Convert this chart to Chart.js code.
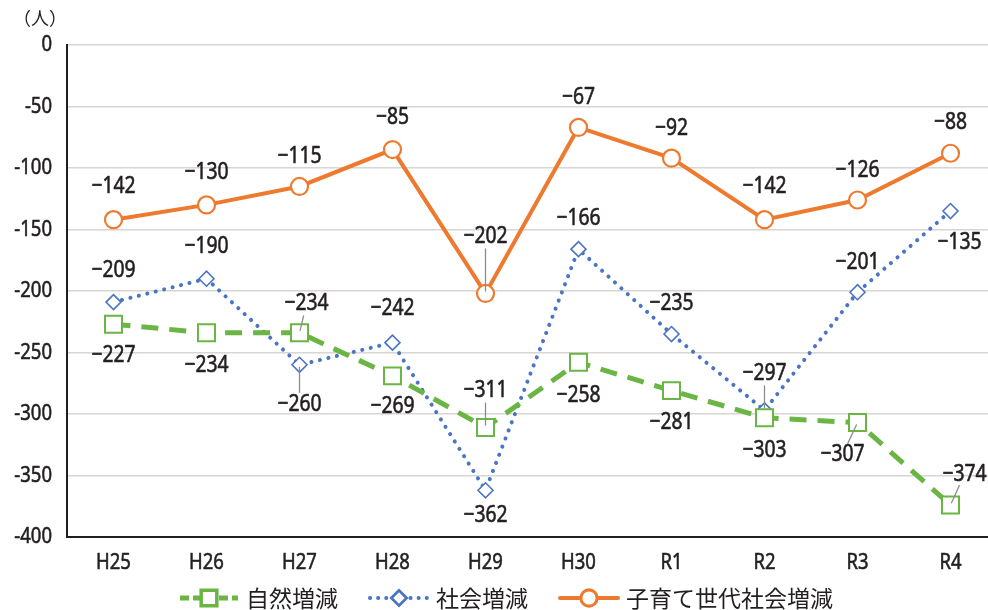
<!DOCTYPE html>
<html>
<head>
<meta charset="utf-8">
<script src="https://cdn.jsdelivr.net/npm/chart.js@4/dist/chart.umd.min.js"></script>
<style>
  html, body { margin: 0; padding: 0; background: #fff; overflow: hidden; }
  canvas { display: block; }
</style>
</head>
<body>
<canvas id="c" width="997" height="610"></canvas>
<script>
// Fiscal years
const categories = ['H25', 'H26', 'H27', 'H28', 'H29', 'H30', 'R1', 'R2', 'R3', 'R4'];

// Population change (persons)
const naturalChange = [-227, -234, -234, -269, -311, -258, -281, -303, -307, -374];
const socialChange = [-209, -190, -260, -242, -362, -166, -235, -297, -201, -135];
const childRearingSocialChange = [-142, -130, -115, -85, -202, -67, -92, -142, -126, -88];

const seriesNames = ['自然増減', '社会増減', '子育て世代社会増減'];
const yMin = -400, yMax = 0, yStep = 50;
const unitLabel = '（人）';

// Value label placement relative to each point: [dx, dy, leaderLine]
const naturalLabelPos = [[0, 31, 0], [0, 33, 0], [7, -29, 1], [0, 31, 0], [0, -37, 1], [0, 33, 0], [0, 32, 0], [0, 33, 0], [-15, 32, 1], [14, -31, 1]];
const socialLabelPos = [[0, -32, 0], [0, -32, 0], [0, 40, 1], [0, -34, 0], [0, 25, 0], [0, -31, 0], [0, -31, 0], [0, -37, 1], [0, -30, 0], [9, 31, 0]];
const childLabelPos = [[0, -33, 0], [0, -32, 0], [0, -30, 0], [0, -32, 0], [0, -57, 1], [0, -30, 0], [0, -30, 0], [0, -33, 0], [0, -30, 0], [0, -31, 0]];

const GREEN = '#6ab543';
const BLUE = '#4a74c4';
const ORANGE = '#ed7a2e';
const TEXT = '#231f20';
const NUM_FONT = '"Noto Sans", sans-serif';
const JP_FONT = '"Noto Sans CJK JP", sans-serif';
const NARROW = 0.84;   // horizontal squeeze for the condensed numerals

const datasets = [
  {
    label: seriesNames[0], data: naturalChange, labelPos: naturalLabelPos,
    borderColor: GREEN, borderWidth: 5, borderDash: [17, 11], borderCapStyle: 'butt',
    pointStyle: 'rect', pointRadius: 12, pointBorderWidth: 2,
    pointBackgroundColor: '#fff', pointBorderColor: GREEN,
    legendDash: [9, 4], legendWidth: 5
  },
  {
    label: seriesNames[1], data: socialChange, labelPos: socialLabelPos,
    borderColor: BLUE, borderWidth: 4, borderDash: [0.1, 8.6], borderCapStyle: 'round',
    pointStyle: 'rectRot', pointRadius: 7.5, pointBorderWidth: 1.6,
    pointBackgroundColor: '#fff', pointBorderColor: BLUE,
    legendDash: [0.1, 8], legendWidth: 4
  },
  {
    label: seriesNames[2], data: childRearingSocialChange, labelPos: childLabelPos,
    borderColor: ORANGE, borderWidth: 4, borderDash: [], borderCapStyle: 'round',
    pointStyle: 'circle', pointRadius: 8.5, pointBorderWidth: 2.2,
    pointBackgroundColor: '#fff', pointBorderColor: ORANGE,
    legendDash: [], legendWidth: 4
  }
];

const fmt = v => (v < 0 ? '\u2212' + Math.abs(v) : String(v));

// condensed, slightly heavier text: squeeze glyphs horizontally around the anchor
function narrowText(ctx, text, x, y, align) {
  ctx.save();
  ctx.translate(x, y);
  ctx.scale(NARROW, 1);
  ctx.textAlign = align;
  ctx.strokeStyle = ctx.fillStyle;
  ctx.lineWidth = 0.6;
  ctx.lineJoin = 'round';
  ctx.strokeText(text, 0, 0);
  ctx.fillText(text, 0, 0);
  ctx.restore();
}

const extras = {
  id: 'extras',
  afterDraw(chart) {
    const ctx = chart.ctx;
    const xs = chart.scales.x, ys = chart.scales.y;
    ctx.save();
    ctx.fillStyle = TEXT;
    ctx.textBaseline = 'middle';

    // axis tick labels
    ctx.font = '22px ' + NUM_FONT;
    ys.ticks.forEach((t, i) => {
      narrowText(ctx, String(t.value), 52, ys.getPixelForTick(i), 'right');
    });
    xs.ticks.forEach((t, i) => {
      narrowText(ctx, categories[i], xs.getPixelForTick(i), 563, 'center');
    });

    // leader lines
    chart.data.datasets.forEach((ds, di) => {
      const meta = chart.getDatasetMeta(di);
      meta.data.forEach((pt, i) => {
        const [dx, dy, lead] = ds.labelPos[i];
        if (!lead) return;
        const lx = pt.x + dx, ly = pt.y + dy;
        const len = Math.hypot(dx, dy);
        const ux = dx / len, uy = dy / len;
        ctx.strokeStyle = '#8c8c8c';
        ctx.lineWidth = 1.3;
        ctx.setLineDash([]);
        ctx.beginPath();
        ctx.moveTo(pt.x + ux * 2, pt.y + uy * 2);
        ctx.lineTo(lx - ux * 12, ly - uy * 12);
        ctx.stroke();
      });
    });

    // value labels
    ctx.font = '23px ' + NUM_FONT;
    chart.data.datasets.forEach((ds, di) => {
      const meta = chart.getDatasetMeta(di);
      meta.data.forEach((pt, i) => {
        const [dx, dy] = ds.labelPos[i];
        narrowText(ctx, fmt(ds.data[i]), pt.x + dx, pt.y + dy, 'center');
      });
    });

    // unit label
    ctx.font = '18px ' + JP_FONT;
    ctx.textAlign = 'center';
    ctx.fillText(unitLabel, 40, 18);

    // legend
    const ly = 598;
    let x = 180;
    ctx.font = '23px ' + JP_FONT;
    ctx.textAlign = 'left';
    chart.data.datasets.forEach((ds) => {
      const lineLen = 58;
      ctx.strokeStyle = ds.borderColor;
      ctx.lineWidth = ds.legendWidth;
      ctx.lineCap = ds.borderCapStyle;
      ctx.setLineDash(ds.legendDash);
      ctx.beginPath();
      ctx.moveTo(x, ly);
      ctx.lineTo(x + lineLen, ly);
      ctx.stroke();
      ctx.setLineDash([]);
      Chart.helpers.drawPoint(ctx, {
        pointStyle: ds.pointStyle,
        radius: ds.pointStyle === 'rect' ? 10 : ds.pointRadius * 0.9,
        rotation: 0,
        borderWidth: ds.pointBorderWidth
      }, x + lineLen / 2, ly);
      ctx.fillStyle = '#fff';
      ctx.fill();
      ctx.strokeStyle = ds.pointBorderColor;
      ctx.lineWidth = ds.pointBorderWidth;
      ctx.stroke();
      ctx.fillStyle = TEXT;
      const tx = x + lineLen + 8;
      ctx.fillText(ds.label, tx, ly);
      x = tx + ctx.measureText(ds.label).width + 32;
    });
    ctx.restore();
  }
};

new Chart(document.getElementById('c'), {
  type: 'line',
  data: { labels: categories, datasets: datasets },
  options: {
    responsive: false,
    animation: false,
    devicePixelRatio: 1,
    layout: { autoPadding: false, padding: { top: 45, left: 0, right: 0, bottom: 0 } },
    plugins: { legend: { display: false }, tooltip: { enabled: false } },
    scales: {
      x: {
        offset: true,
        grid: { display: false },
        border: { color: '#1e1e1e', width: 2 },
        ticks: { display: false },
        afterFit(s) { s.height = 73; }
      },
      y: {
        min: yMin, max: yMax,
        grid: { color: '#d9d5d2', lineWidth: 1.5, drawTicks: false },
        border: { color: '#1e1e1e', width: 2 },
        ticks: { display: false, stepSize: yStep },
        afterFit(s) { s.width = 67; }
      }
    }
  },
  plugins: [extras]
});
</script>
</body>
</html>
